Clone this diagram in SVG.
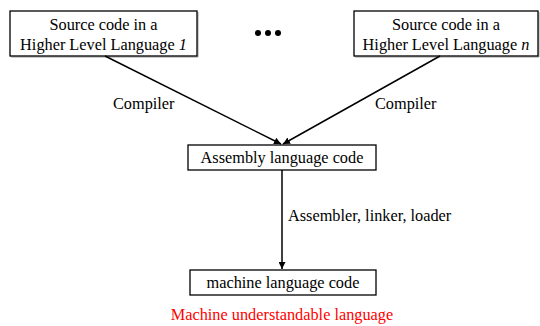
<svg xmlns="http://www.w3.org/2000/svg" width="540" height="326" viewBox="0 0 540 326">
<style>
.box{fill:#fff;stroke:#000;stroke-width:1.3}
.sh{fill:none;stroke:#999;stroke-width:1}
.t{font-family:"Liberation Serif","Times New Roman",serif;font-size:16.3px;fill:#000;text-anchor:middle}
.l{font-family:"Liberation Serif","Times New Roman",serif;font-size:16.3px;fill:#000}
.r{fill:#ff0000}
.c{stroke:#000;stroke-width:1.5;fill:none}
</style>
<defs>
<marker id="ah" viewBox="0 0 10 10" refX="10" refY="5" markerWidth="7" markerHeight="7" markerUnits="userSpaceOnUse" orient="auto">
<path d="M0,0 L10,5 L0,10 z" fill="#000"/>
</marker>
</defs>
<rect width="540" height="326" fill="#fff"/>
<g id="src1">
<polyline class="sh" points="11,57 198,57 198,12"/>
<rect class="box" x="10" y="11" width="187" height="45"/>
<text class="t" x="103.5" y="30">Source code in a</text>
<text class="t" x="103.5" y="50">Higher Level Language <tspan font-style="italic">1</tspan></text>
</g>
<g id="dots">
<circle cx="258" cy="33" r="3" fill="#000"/>
<circle cx="268" cy="33" r="3" fill="#000"/>
<circle cx="278" cy="33" r="3" fill="#000"/>
</g>
<g id="srcn">
<polyline class="sh" points="355,57 539,57 539,12"/>
<rect class="box" x="354" y="11" width="184" height="45"/>
<text class="t" x="446" y="30">Source code in a</text>
<text class="t" x="446" y="50">Higher Level Language <tspan font-style="italic">n</tspan></text>
</g>
<g id="asm">
<rect class="box" x="188" y="145" width="188" height="25"/>
<text class="t" x="282" y="163">Assembly language code</text>
</g>
<g id="mach">
<rect class="box" x="190" y="270" width="186" height="25"/>
<text class="t" x="283" y="288">machine language code</text>
</g>
<g id="connectors">
<line class="c" x1="105" y1="56" x2="281" y2="144" marker-end="url(#ah)"/>
<line class="c" x1="440" y1="56" x2="283" y2="144" marker-end="url(#ah)"/>
<line class="c" x1="282" y1="170" x2="282" y2="269" marker-end="url(#ah)"/>
<text class="l" x="113" y="109">Compiler</text>
<text class="l" x="375" y="109">Compiler</text>
<text class="l" x="288" y="221">Assembler, linker, loader</text>
</g>
<text class="t r" x="282" y="320">Machine understandable language</text>
</svg>
